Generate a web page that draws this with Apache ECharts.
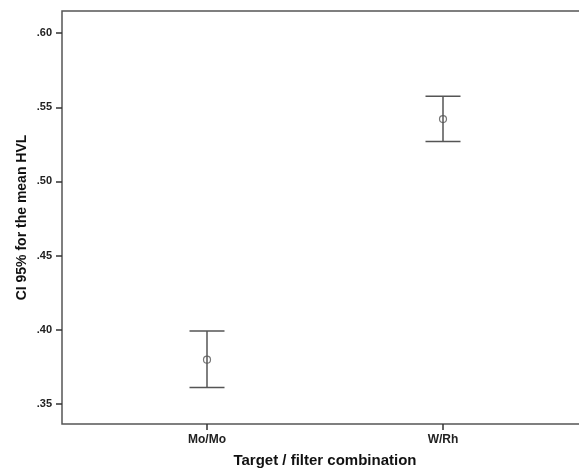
<!DOCTYPE html>
<html>
<head>
<meta charset="utf-8">
<script src="https://cdn.jsdelivr.net/npm/echarts@6/dist/echarts.min.js"></script>
<style>
html,body{margin:0;padding:0;background:#fff;}
#chart{width:579px;height:468px;}
</style>
</head>
<body>
<div id="chart"></div>
<script>
const categories = ['Mo/Mo', 'W/Rh'];
const means = [0.3797, 0.5421];
const lower = [0.3610, 0.5270];
const upper = [0.3991, 0.5574];
const yTicks = [0.35, 0.40, 0.45, 0.50, 0.55, 0.60];

const positions = categories.map((c, i) => i + 1);
const barData = categories.map((c, i) => [positions[i], lower[i], upper[i]]);
const meanData = categories.map((c, i) => [positions[i], means[i]]);

const FONT = '"Liberation Sans", Arial, sans-serif';
const AX = '#555';
const BAR = '#555';

const chart = echarts.init(document.getElementById('chart'), null, {renderer: 'canvas'});
chart.setOption({
  animation: false,
  backgroundColor: '#fff',
  grid: {left: 62, right: -9, top: 11, bottom: 44, show: true, borderColor: AX, borderWidth: 1.5, backgroundColor: 'transparent', outerBoundsMode: 'none', containLabel: false},
  xAxis: {
    type: 'value',
    min: 0.3856, max: 2.6144,
    name: 'Target / filter combination',
    nameLocation: 'middle',
    nameGap: 29,
    nameTextStyle: {fontFamily: FONT, fontSize: 15, fontWeight: 'bold', color: '#111', verticalAlign: 'top'},
    axisLine: {show: false},
    splitLine: {show: false},
    axisTick: {show: true, length: 6, lineStyle: {color: '#333', width: 1.5}, customValues: positions},
    axisLabel: {
      customValues: positions,
      margin: 10,
      fontFamily: FONT, fontSize: 12, fontWeight: 'bold', color: '#222',
      formatter: v => categories[Math.round(v) - 1] || ''
    }
  },
  yAxis: {
    type: 'value',
    min: 0.3363, max: 0.615,
    name: 'CI 95% for the mean HVL',
    nameLocation: 'middle',
    nameGap: 33,
    nameMoveOverlap: false,
    nameTextStyle: {fontFamily: FONT, fontSize: 14, fontWeight: 'bold', color: '#111'},
    axisLine: {show: false},
    splitLine: {show: false},
    axisTick: {show: true, length: 6, lineStyle: {color: '#333', width: 1.5}, customValues: yTicks},
    axisLabel: {
      customValues: yTicks,
      margin: 10,
      fontFamily: FONT, fontSize: 11, fontWeight: 'bold', color: '#222',
      formatter: v => v.toFixed(2).replace(/^0/, '')
    }
  },
  series: [
    {
      type: 'custom',
      data: barData,
      renderItem: function (params, api) {
        const x = api.value(0);
        const lo = api.coord([x, api.value(1)]);
        const hi = api.coord([x, api.value(2)]);
        const hw = 17.5;
        const style = {stroke: BAR, lineWidth: 1.5, fill: 'none'};
        return {
          type: 'group',
          children: [
            {type: 'line', shape: {x1: lo[0], y1: lo[1], x2: hi[0], y2: hi[1]}, style: style},
            {type: 'line', shape: {x1: hi[0] - hw, y1: hi[1], x2: hi[0] + hw, y2: hi[1]}, style: style},
            {type: 'line', shape: {x1: lo[0] - hw, y1: lo[1], x2: lo[0] + hw, y2: lo[1]}, style: style}
          ]
        };
      },
      z: 2
    },
    {
      type: 'scatter',
      data: meanData,
      symbol: 'circle',
      symbolSize: 7,
      itemStyle: {color: 'rgba(255,255,255,0)', borderColor: BAR, borderWidth: 1.2},
      z: 3
    }
  ]
});
</script>
</body>
</html>
